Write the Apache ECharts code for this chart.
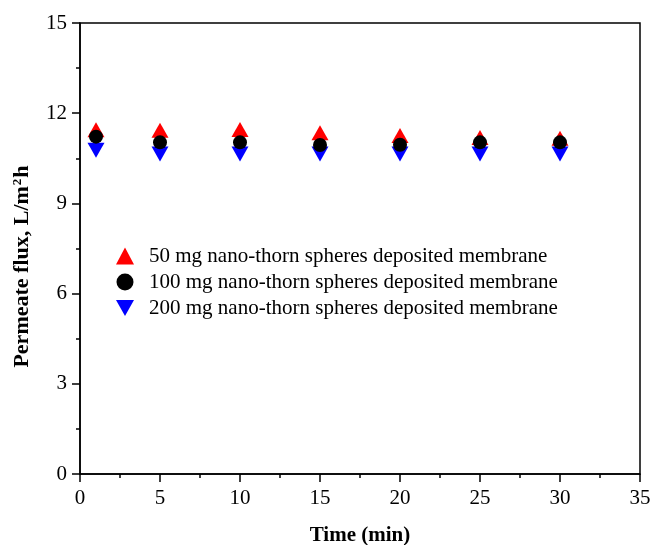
<!DOCTYPE html>
<html>
<head>
<meta charset="utf-8">
<script src="https://cdn.jsdelivr.net/npm/echarts@6/dist/echarts.min.js"></script>
<style>
  html, body { margin: 0; padding: 0; background: #fff; }
  #chart { width: 651px; height: 545px; }
</style>
</head>
<body>
<div id="chart"></div>
<script>
// time points (min)
const times = [1, 5, 10, 15, 20, 25, 30];
// permeate flux, L/m2h
const flux50 = [11.45, 11.43, 11.46, 11.35, 11.26, 11.19, 11.17];
const flux100 = [11.22, 11.03, 11.03, 10.94, 10.95, 11.03, 11.03];
const flux200 = [10.77, 10.64, 10.64, 10.64, 10.64, 10.64, 10.64];
const seriesNames = [
  '50 mg nano-thorn spheres deposited membrane',
  '100 mg nano-thorn spheres deposited membrane',
  '200 mg nano-thorn spheres deposited membrane'
];

const pairs = arr => times.map((t, i) => [t, arr[i]]);
const font = 'Liberation Serif, Times New Roman, serif';
const downTriangle = 'path://M0,0 L10,0 L5,9 Z';

const myChart = echarts.init(document.getElementById('chart'));

const axisCommon = {
  axisLine: { show: true, lineStyle: { color: '#000', width: 1.5 } },
  axisTick: { show: true, length: 8, lineStyle: { color: '#000', width: 1.5 } },
  minorTick: { show: true, splitNumber: 2, length: 4, lineStyle: { color: '#000', width: 1.5 } },
  splitLine: { show: false },
  axisLabel: { color: '#000', fontFamily: font, fontSize: 21, margin: 13 },
  nameLocation: 'middle',
  nameTextStyle: { color: '#000', fontFamily: font, fontSize: 21, fontWeight: 'bold' }
};

myChart.setOption({
  animation: false,
  backgroundColor: '#fff',
  grid: {
    left: 80, right: 11, top: 23, bottom: 71,
    outerBoundsMode: 'none',
    containLabel: false,
    show: true, borderColor: '#000', borderWidth: 1.5
  },
  legend: {
    orient: 'vertical',
    left: 111, top: 240,
    itemWidth: 18, itemHeight: 17,
    itemGap: 4,
    textStyle: { color: '#000', fontFamily: font, fontSize: 21, lineHeight: 22, padding: [0, 0, 0, 10] },
    data: [
      { name: seriesNames[0], icon: 'triangle' },
      { name: seriesNames[1], icon: 'circle' },
      { name: seriesNames[2], icon: downTriangle }
    ]
  },
  xAxis: Object.assign({}, axisCommon, {
    type: 'value', min: 0, max: 35, interval: 5,
    name: 'Time (min)', nameGap: 51,
    axisLabel: Object.assign({}, axisCommon.axisLabel, { margin: 14 })
  }),
  yAxis: Object.assign({}, axisCommon, {
    type: 'value', min: 0, max: 15, interval: 3,
    name: 'Permeate flux, L/m{sup|2}h', nameGap: 47,
    nameTextStyle: Object.assign({}, axisCommon.nameTextStyle, {
      fontSize: 22,
      padding: [0, 36, 0, 0],
      rich: {
        sup: { fontFamily: font, fontSize: 13, fontWeight: 'bold', color: '#000', verticalAlign: 'top', padding: [0, 1, 0, 1] }
      }
    })
  }),
  series: [
    {
      name: seriesNames[0], type: 'scatter', symbol: 'triangle', symbolSize: [17, 15],
      itemStyle: { color: '#ff0000', opacity: 1 }, data: pairs(flux50), z: 2
    },
    {
      name: seriesNames[1], type: 'scatter', symbol: 'circle', symbolSize: 14,
      itemStyle: { color: '#000', opacity: 1 }, data: pairs(flux100), z: 4
    },
    {
      name: seriesNames[2], type: 'scatter', symbol: downTriangle, symbolSize: [17, 15],
      itemStyle: { color: '#0000ff', opacity: 1 }, data: pairs(flux200), z: 3
    }
  ]
});
</script>
</body>
</html>
